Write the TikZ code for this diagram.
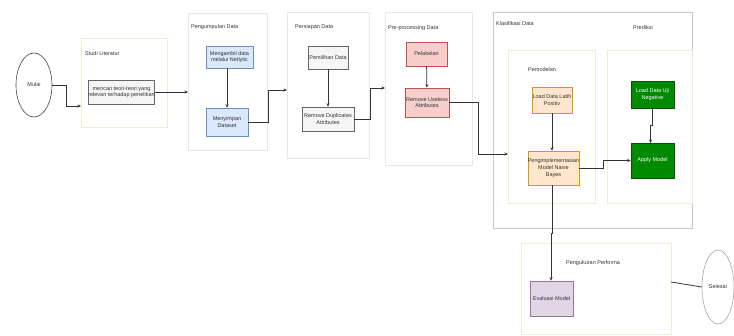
\documentclass[tikz,border=0pt]{standalone}
\usepackage{fontspec}
\setmainfont{Liberation Sans}
\usetikzlibrary{arrows.meta,shapes.geometric}
\definecolor{blueF}{HTML}{DAE8FC}\definecolor{blueD}{HTML}{6C8EBF}
\definecolor{grayF}{HTML}{F5F5F5}\definecolor{grayD}{HTML}{666666}
\definecolor{redF}{HTML}{F8CECC}\definecolor{redD}{HTML}{B85450}
\definecolor{orgF}{HTML}{FFE6CC}\definecolor{orgD}{HTML}{D79B00}
\definecolor{grnF}{HTML}{008A00}\definecolor{grnD}{HTML}{005700}
\definecolor{purF}{HTML}{E1D5E7}\definecolor{purD}{HTML}{9673A6}
\definecolor{creamD}{HTML}{F3EBD0}
\definecolor{paleD}{HTML}{E8E8E8}
\definecolor{klasD}{HTML}{D0C4C4}
\definecolor{lineC}{HTML}{333333}
\begin{document}
\begin{tikzpicture}[x=1pt,y=-1pt,
  every node/.style={font=\fontsize{5.5}{6.8}\selectfont, text=black!80, inner sep=0pt},
  group/.style={draw=#1, line width=0.6pt, fill=white},
  proc/.style={draw=#1, line width=0.6pt},
  lbl/.style={anchor=west},
  flow/.style={draw=lineC, line width=0.8pt, -{Stealth[length=3.5pt,width=3pt]}},
  plain/.style={draw=lineC, line width=0.8pt},
  term/.style={ellipse, draw=#1, line width=0.6pt, fill=white}]

\useasboundingbox (0,0) rectangle (734,335);
\fill[white] (0,0) rectangle (734,335);

% start terminal
\node[term=black!75, minimum width=36pt, minimum height=64pt] (mulai) at (34,85) {Mulai};

% Studi Literatur
\draw[group=creamD] (81,38) rectangle (167,127);
\node[lbl] (tStudi) at (85,54) {Studi Literatur};
\node[proc=grayD, fill=grayF, minimum width=65pt, minimum height=24pt, align=center] (teori) at (121.5,92) {mencari teori-teori yang\\relevan terhadap penelitian};
\coordinate (studiIn) at (81,106);

% Pengumpulan Data
\draw[group=paleD] (188,13) rectangle (267,150);
\node[lbl] (tKumpul) at (191,27) {Pengumpulan Data};
\node[proc=blueD, fill=blueF, minimum width=47pt, minimum height=22pt, align=center] (ambil) at (229.5,57) {Mengambil data\\melalui Netlytic};
\node[proc=blueD, fill=blueF, minimum width=42pt, minimum height=28pt, align=center] (simpan) at (227,122) {Menyimpan\\Dataset};
\coordinate (kumpulIn) at (188,92);

% Persiapan Data
\draw[group=paleD] (287,12) rectangle (369,158);
\node[lbl] (tSiap) at (295,27) {Persiapan Data};
\node[proc=grayD, fill=grayF, minimum width=40pt, minimum height=23pt] (pilih) at (328,57.5) {Pemilihan Data};
\node[proc=grayD, fill=grayF, minimum width=52pt, minimum height=24pt, align=center] (dup) at (328,119) {Remove Duplicates\\Attributes};
\coordinate (siapIn) at (287,90);

% Pre-processing Data
\draw[group=paleD] (385,12) rectangle (472,165);
\node[lbl] (tPre) at (388,28) {Pre-processing Data};
\node[proc=redD, fill=redF, minimum width=41pt, minimum height=24pt] (label) at (426.5,54) {Pelabelan};
\node[proc=redD, fill=redF, minimum width=44pt, minimum height=29pt, align=center] (useless) at (427,102.5) {Remove Useless\\Attributes};

% Klasifikasi Data
\draw[group=klasD] (493,12) rectangle (692,228);
\node[lbl] (tKlas) at (496,24) {Klasifikasi Data};
\node[lbl] (tPred) at (633,28) {Prediksi};
\draw[group=creamD] (508,50) rectangle (595,203);
\draw[group=creamD] (607,50) rectangle (692,203);
\node[lbl] (tModel) at (528,70) {Pemodelan};
\node[proc=orgD, fill=orgF, minimum width=40pt, minimum height=26pt, align=center] (latih) at (552,100) {Load Data Latih\\Positiv};
\node[proc=orgD, fill=orgF, minimum width=43pt, minimum height=34pt, align=center] (nb) at (553.5,168) {Pengimplementasian\\Model Naive\\Bayes};
\node[proc=grnD, fill=grnF, minimum width=43pt, minimum height=27pt, align=center, text=white] (uji) at (652.5,94.5) {Load Data Uji\\Negative};
\node[proc=grnD, fill=grnF, minimum width=43pt, minimum height=35pt, text=white] (apply) at (652.5,160.5) {Apply Model};
\coordinate (modelIn) at (508,154);

% Pengukuran Performa
\draw[group=creamD] (521,243) rectangle (671,334);
\node[lbl] (tUkur) at (566,263) {Pengukuran Performa};
\node[proc=purD, fill=purF, minimum width=43pt, minimum height=35pt] (eval) at (551.5,298.5) {Evaluasi Model};
\coordinate (ukurOut) at (671,282);

% end terminal
\node[term=black!35, minimum width=32pt, minimum height=74pt] (selesai) at (718,287) {Selesai};

% connectors
\draw[flow] (mulai.east) -- (66,85) |- (studiIn);
\draw[flow] (teori.east) -- (kumpulIn);
\draw[flow] (ambil.south -| simpan.north) -- (simpan.north);
\draw[flow] (simpan.east) -- (268,122) |- (siapIn);
\draw[flow] (pilih) -- (dup);
\draw[flow] (dup.east) -- (370,119) |- (385,88);
\draw[flow] (label) -- (useless);
\draw[flow] (useless.east) -- (478,102.5) |- (modelIn);
\draw[flow] (latih) -- (latih.south |- nb.north);
\draw[flow] (uji.south) -- (652.5,125) -- (650.5,125) -- (650.5,143);
\draw[flow] (nb.east) -- (603,168) |- (apply.west);
\draw[flow] (552,185) -- (552,233) -- (551,233) -- (eval.north -| 551,0);
\draw[plain] (ukurOut) -- (selesai.west);
\end{tikzpicture}
\end{document}
